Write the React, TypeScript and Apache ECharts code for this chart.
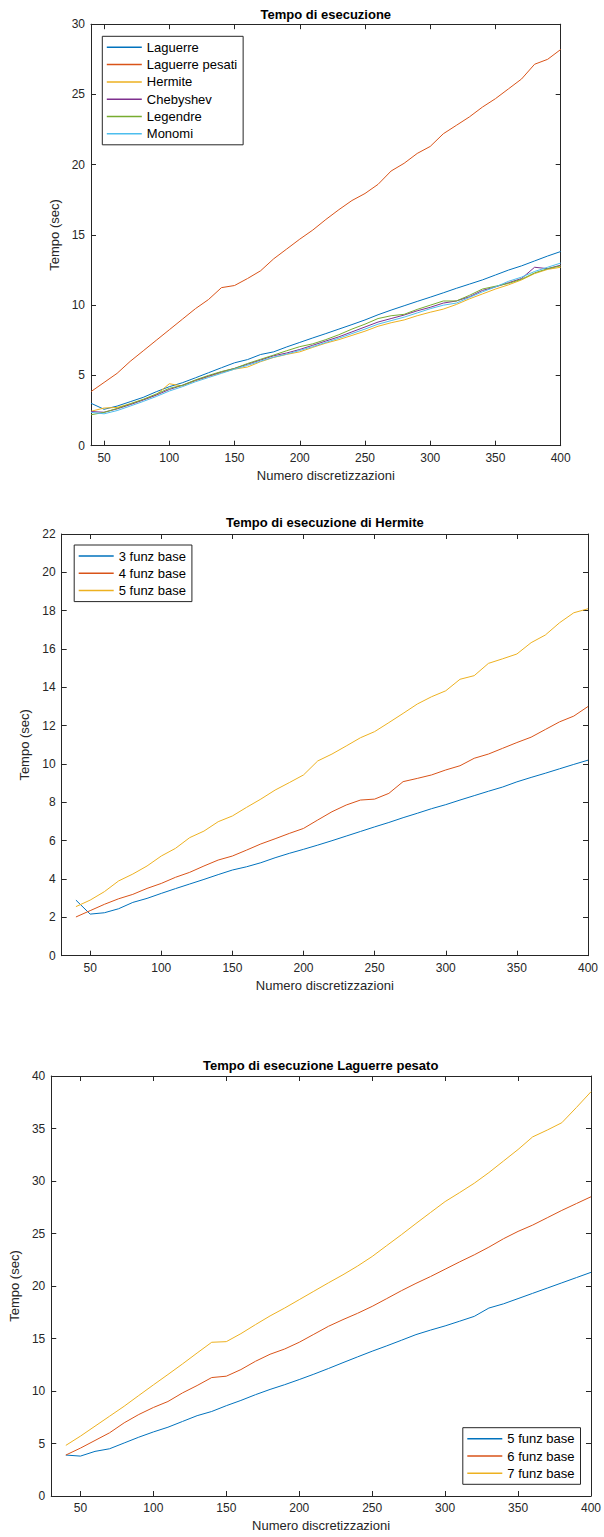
import React, { useEffect, useRef } from "react";
import * as echarts from "echarts";

// Discretisation sizes (x axis) shared by all three plots
const nDisc = [40, 50, 60, 70, 80, 90, 100, 110, 120, 130, 140, 150, 160, 170, 180, 190, 200, 210, 220, 230, 240, 250, 260, 270, 280, 290, 300, 310, 320, 330, 340, 350, 360, 370, 380, 390, 400];
const xTicks = [50, 100, 150, 200, 250, 300, 350, 400];

// Plot 1: execution time per basis family (sec)
const laguerre = [3.02, 2.59, 2.82, 3.13, 3.44, 3.84, 4.2, 4.48, 4.83, 5.19, 5.55, 5.9, 6.13, 6.49, 6.68, 7.03, 7.35, 7.67, 7.98, 8.3, 8.62, 8.95, 9.32, 9.65, 9.96, 10.27, 10.57, 10.88, 11.2, 11.5, 11.8, 12.15, 12.5, 12.8, 13.15, 13.5, 13.82];
const laguerrePesati = [3.85, 4.5, 5.15, 6.0, 6.75, 7.5, 8.25, 9.0, 9.75, 10.4, 11.25, 11.4, 11.9, 12.45, 13.3, 14.0, 14.7, 15.35, 16.1, 16.8, 17.45, 17.95, 18.6, 19.55, 20.1, 20.8, 21.3, 22.2, 22.8, 23.4, 24.1, 24.7, 25.4, 26.1, 27.15, 27.5, 28.2];
const hermite = [2.45, 2.68, 2.72, 2.98, 3.28, 3.62, 4.41, 4.25, 4.62, 4.92, 5.2, 5.45, 5.6, 5.98, 6.28, 6.5, 6.68, 7.0, 7.3, 7.55, 7.85, 8.15, 8.5, 8.75, 8.95, 9.25, 9.5, 9.72, 10.05, 10.45, 10.8, 11.15, 11.45, 11.8, 12.25, 12.55, 12.7];
const chebyshev = [2.43, 2.38, 2.62, 2.92, 3.25, 3.6, 4.0, 4.3, 4.65, 4.95, 5.25, 5.5, 5.8, 6.1, 6.4, 6.6, 6.85, 7.15, 7.45, 7.75, 8.1, 8.45, 8.8, 9.05, 9.3, 9.6, 9.85, 10.15, 10.3, 10.6, 11.05, 11.3, 11.6, 11.9, 12.7, 12.6, 12.85];
const legendre = [2.2, 2.37, 2.65, 2.98, 3.3, 3.68, 4.08, 4.3, 4.68, 5.0, 5.28, 5.5, 5.85, 6.15, 6.45, 6.76, 7.05, 7.25, 7.55, 7.9, 8.3, 8.65, 9.05, 9.25, 9.35, 9.7, 10.0, 10.3, 10.3, 10.7, 11.15, 11.35, 11.55, 11.85, 12.3, 12.6, 12.8];
const monomi = [2.37, 2.27, 2.5, 2.82, 3.15, 3.5, 3.89, 4.2, 4.55, 4.85, 5.15, 5.45, 5.72, 6.02, 6.3, 6.52, 6.78, 7.05, 7.35, 7.65, 7.98, 8.3, 8.65, 8.9, 9.15, 9.45, 9.75, 10.0, 10.15, 10.55, 10.95, 11.3, 11.7, 12.0, 12.4, 12.7, 13.0];

// Plot 2: Hermite with 3, 4 and 5 basis functions
const hermite3 = [2.9, 2.17, 2.24, 2.45, 2.78, 2.99, 3.25, 3.5, 3.74, 3.98, 4.23, 4.47, 4.64, 4.85, 5.11, 5.34, 5.55, 5.77, 6.0, 6.24, 6.48, 6.72, 6.95, 7.2, 7.43, 7.67, 7.88, 8.12, 8.35, 8.58, 8.8, 9.07, 9.3, 9.52, 9.75, 9.98, 10.2];
const hermite4 = [2.02, 2.35, 2.68, 2.97, 3.2, 3.51, 3.77, 4.09, 4.35, 4.68, 4.99, 5.2, 5.51, 5.83, 6.1, 6.38, 6.64, 7.08, 7.51, 7.86, 8.12, 8.17, 8.47, 9.08, 9.25, 9.43, 9.69, 9.91, 10.3, 10.52, 10.82, 11.12, 11.4, 11.8, 12.2, 12.5, 13.0];
const hermite5 = [2.56, 2.9, 3.34, 3.9, 4.26, 4.68, 5.2, 5.6, 6.16, 6.5, 6.99, 7.29, 7.74, 8.17, 8.64, 9.03, 9.43, 10.16, 10.52, 10.94, 11.37, 11.69, 12.16, 12.64, 13.13, 13.51, 13.82, 14.42, 14.61, 15.25, 15.49, 15.74, 16.33, 16.73, 17.37, 17.89, 18.1];

// Plot 3: weighted Laguerre with 5, 6 and 7 basis functions
const lagP5 = [3.9, 3.8, 4.25, 4.5, 5.05, 5.6, 6.1, 6.55, 7.1, 7.65, 8.05, 8.6, 9.1, 9.65, 10.15, 10.6, 11.09, 11.6, 12.14, 12.7, 13.25, 13.79, 14.3, 14.83, 15.37, 15.8, 16.2, 16.65, 17.11, 17.9, 18.3, 18.8, 19.3, 19.8, 20.3, 20.8, 21.3];
const lagP6 = [3.9, 4.56, 5.29, 6.02, 6.97, 7.76, 8.43, 9.0, 9.82, 10.52, 11.28, 11.41, 12.04, 12.83, 13.5, 14.0, 14.64, 15.4, 16.16, 16.8, 17.4, 18.06, 18.8, 19.55, 20.25, 20.9, 21.6, 22.3, 22.97, 23.7, 24.5, 25.2, 25.8, 26.5, 27.2, 27.85, 28.5];
const lagP7 = [4.82, 5.7, 6.65, 7.6, 8.55, 9.57, 10.58, 11.57, 12.58, 13.62, 14.64, 14.7, 15.46, 16.32, 17.15, 17.9, 18.7, 19.5, 20.3, 21.07, 21.9, 22.81, 23.85, 24.88, 25.95, 27.0, 28.04, 28.9, 29.79, 30.8, 31.9, 33.0, 34.2, 34.85, 35.55, 37.0, 38.5];

const COLORS = ["#0072BD", "#D95319", "#EDB120", "#7E2F8E", "#77AC30", "#4DBEEE"];
const FONT = '"Liberation Sans", Arial, Helvetica, sans-serif';
const INK = "#262626";

type SeriesDef = { name: string; values: number[]; color: string };

type PlotCfg = {
  title: string;
  titleX: number;
  titleY: number;
  grid: { left: number; top: number; width: number; height: number };
  xMin: number;
  yMax: number;
  yInterval: number;
  legend: { left: number; top: number };
  series: SeriesDef[];
};

function buildOption(cfg: PlotCfg) {
  const tickCommon = { show: true, inside: true, length: 5, lineStyle: { color: INK, width: 1 } };
  const lineCommon = { show: true, onZero: false, lineStyle: { color: INK, width: 1 } };
  const xBase = { type: "value", min: cfg.xMin, max: 400, splitLine: { show: false } };
  const yBase = { type: "value", min: 0, max: cfg.yMax, interval: cfg.yInterval, splitLine: { show: false } };
  return {
    animation: false,
    backgroundColor: "#ffffff",
    grid: { ...cfg.grid, containLabel: false },
    graphic: [
      {
        type: "text",
        x: cfg.titleX,
        y: cfg.titleY,
        style: {
          text: cfg.title,
          align: "center",
          verticalAlign: "middle",
          font: `bold 13px ${FONT}`,
          fill: "#000000",
        },
      },
    ],
    legend: {
      left: cfg.legend.left,
      top: cfg.legend.top,
      orient: "vertical",
      icon: "rect",
      itemWidth: 35,
      itemHeight: 1.5,
      itemGap: 3.3,
      padding: [4, 6, 4, 4.5],
      borderColor: INK,
      borderWidth: 1,
      backgroundColor: "#ffffff",
      textStyle: { fontFamily: FONT, fontSize: 13, color: "#000000", lineHeight: 14 },
      data: cfg.series.map((s) => ({ name: s.name, itemStyle: { color: s.color } })),
    },
    xAxis: [
      {
        ...xBase,
        position: "bottom",
        axisLine: lineCommon,
        axisTick: { ...tickCommon, customValues: xTicks },
        axisLabel: { customValues: xTicks, margin: 6, color: INK, fontFamily: FONT, fontSize: 12 },
        name: "Numero discretizzazioni",
        nameLocation: "middle",
        nameGap: 23,
        nameTextStyle: { fontFamily: FONT, fontSize: 13, color: INK },
      },
      {
        ...xBase,
        position: "top",
        axisLine: lineCommon,
        axisTick: { ...tickCommon, customValues: xTicks },
        axisLabel: { show: false },
      },
    ],
    yAxis: [
      {
        ...yBase,
        position: "left",
        axisLine: lineCommon,
        axisTick: tickCommon,
        axisLabel: { margin: 6, color: INK, fontFamily: FONT, fontSize: 12 },
        name: "Tempo (sec)",
        nameLocation: "middle",
        nameGap: 24,
        nameRotate: 90,
        nameTextStyle: { fontFamily: FONT, fontSize: 13, color: INK },
      },
      {
        ...yBase,
        position: "right",
        axisLine: lineCommon,
        axisTick: tickCommon,
        axisLabel: { show: false },
      },
    ],
    series: cfg.series.map((s) => ({
      name: s.name,
      type: "line",
      xAxisIndex: 0,
      yAxisIndex: 0,
      symbol: "none",
      color: s.color,
      lineStyle: { color: s.color, width: 1 },
      data: nDisc.map((x, i) => [x, s.values[i]]),
    })),
  };
}

const plots: { top: number; height: number; cfg: PlotCfg }[] = [
  {
    top: 0,
    height: 500,
    cfg: {
      title: "Tempo di esecuzione",
      titleX: 325.8,
      titleY: 14,
      grid: { left: 91, top: 24.2, width: 469.7, height: 421.5 },
      xMin: 40,
      yMax: 30,
      yInterval: 5,
      legend: { left: 102.3, top: 36.3 },
      series: [
        { name: "Laguerre", values: laguerre, color: COLORS[0] },
        { name: "Laguerre pesati", values: laguerrePesati, color: COLORS[1] },
        { name: "Hermite", values: hermite, color: COLORS[2] },
        { name: "Chebyshev", values: chebyshev, color: COLORS[3] },
        { name: "Legendre", values: legendre, color: COLORS[4] },
        { name: "Monomi", values: monomi, color: COLORS[5] },
      ],
    },
  },
  {
    top: 500,
    height: 510,
    cfg: {
      title: "Tempo di esecuzione di Hermite",
      titleX: 324.9,
      titleY: 22.7,
      grid: { left: 61.7, top: 34, width: 526.3, height: 421.7 },
      xMin: 30,
      yMax: 22,
      yInterval: 2,
      legend: { left: 74.2, top: 45 },
      series: [
        { name: "3 funz base", values: hermite3, color: COLORS[0] },
        { name: "4 funz base", values: hermite4, color: COLORS[1] },
        { name: "5 funz base", values: hermite5, color: COLORS[2] },
      ],
    },
  },
  {
    top: 1010,
    height: 527,
    cfg: {
      title: "Tempo di esecuzione Laguerre pesato",
      titleX: 320.7,
      titleY: 55,
      grid: { left: 49.3, top: 66, width: 542.7, height: 420.7 },
      xMin: 30,
      yMax: 40,
      yInterval: 5,
      legend: { left: 462.8, top: 417.7 },
      series: [
        { name: "5 funz base", values: lagP5, color: COLORS[0] },
        { name: "6 funz base", values: lagP6, color: COLORS[1] },
        { name: "7 funz base", values: lagP7, color: COLORS[2] },
      ],
    },
  },
];

function Plot({ top, height, cfg }: { top: number; height: number; cfg: PlotCfg }) {
  const ref = useRef<HTMLDivElement>(null);
  useEffect(() => {
    if (!ref.current) return;
    const chart = echarts.init(ref.current, undefined, { renderer: "svg" });
    chart.setOption(buildOption(cfg) as any);
    return () => chart.dispose();
  }, [cfg]);
  return <div ref={ref} style={{ position: "absolute", left: 0, top, width: 604, height }} />;
}

export default function App() {
  useEffect(() => {
    document.body.style.margin = "0";
  }, []);
  return (
    <div style={{ position: "relative", width: 604, height: 1537, background: "#ffffff" }}>
      {plots.map((p, i) => (
        <Plot key={i} top={p.top} height={p.height} cfg={p.cfg} />
      ))}
    </div>
  );
}
